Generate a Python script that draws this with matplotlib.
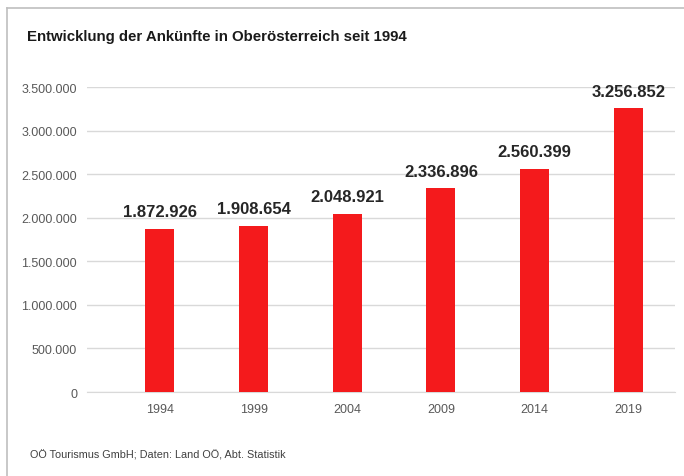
import matplotlib.pyplot as plt
from matplotlib.lines import Line2D
from matplotlib.ticker import FuncFormatter

# ── Daten ─────────────────────────────────────────────
YEARS    = ['1994', '1999', '2004', '2009', '2014', '2019']
ARRIVALS = [1872926, 1908654, 2048921, 2336896, 2560399, 3256852]

TITLE  = 'Entwicklung der Ankünfte in Oberösterreich seit 1994'
SOURCE = 'OÖ Tourismus GmbH; Daten: Land OÖ, Abt. Statistik'

RED  = '#F41A1C'
GREY = '#595959'


def de_fmt(v):
    return f'{int(v):,}'.replace(',', '.')


plt.rcParams['font.family'] = ['Liberation Sans', 'DejaVu Sans']

fig = plt.figure(figsize=(6.84, 4.77), dpi=100)
ax = fig.add_axes([0.127, 0.176, 0.86, 0.6394])

x = list(range(len(YEARS)))
bars = ax.bar(x, ARRIVALS, width=0.31, color=RED, zorder=3)

for bar, val in zip(bars, ARRIVALS):
    ax.annotate(de_fmt(val),
                (bar.get_x() + bar.get_width() / 2, bar.get_height()),
                xytext=(0, 7), textcoords='offset points',
                ha='center', va='bottom',
                fontsize=12, fontweight='bold', color='#262626')

ax.set_xlim(-0.78, 5.5)
ax.set_ylim(0, 3500000)
ax.set_yticks(range(0, 3500001, 500000))
ax.yaxis.set_major_formatter(FuncFormatter(lambda v, p: de_fmt(v)))
ax.set_xticks(x)
ax.set_xticklabels(YEARS)

ax.grid(axis='y', color='#D9D9D9', linewidth=1, zorder=0)
for s in ['top', 'right', 'left']:
    ax.spines[s].set_visible(False)
ax.spines['bottom'].set_color('#D9D9D9')
ax.tick_params(length=0, labelsize=9, colors=GREY)
ax.tick_params(axis='y', pad=7)
ax.tick_params(axis='x', pad=8)

fig.text(0.04, 0.922, TITLE, fontsize=10.8, fontweight='bold',
         color='#1a1a1a', va='center')
fig.text(0.044, 0.046, SOURCE, fontsize=7.8, color='#404040', va='center')

# grauer Rahmen (oben und links)
fig.add_artist(Line2D([0.010, 1.0], [0.981, 0.981], color='#BFBFBF',
                      linewidth=1.2, transform=fig.transFigure))
fig.add_artist(Line2D([0.010, 0.010], [0.0, 0.981], color='#BFBFBF',
                      linewidth=1.2, transform=fig.transFigure))

fig.savefig('out.png', dpi=100)
